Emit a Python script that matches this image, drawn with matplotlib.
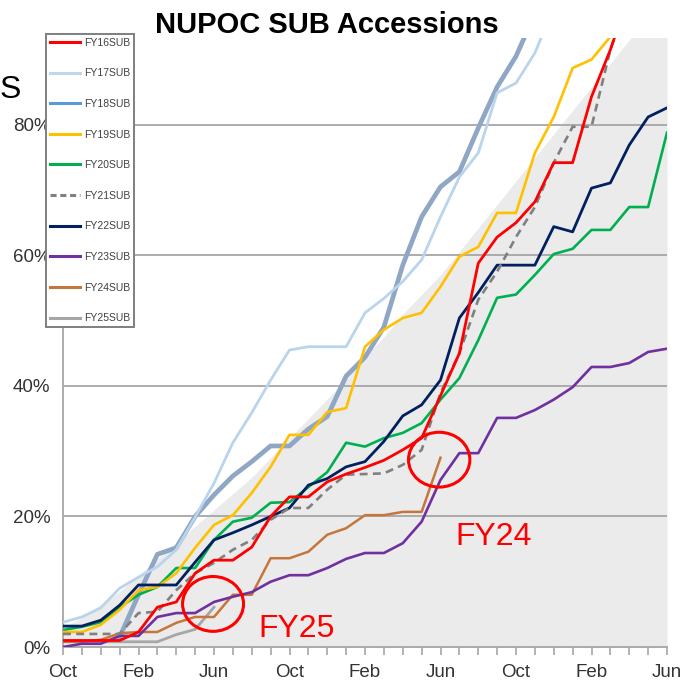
import numpy as np
import matplotlib
matplotlib.use('Agg')
import matplotlib.pyplot as plt
from matplotlib.lines import Line2D
from matplotlib.patches import Ellipse

plt.rcParams['font.family'] = ['Liberation Sans', 'DejaVu Sans']

nan = np.nan

# months since Oct, 0..32 (Oct -> Jun two years later)
month_labels = ['Oct', 'Feb', 'Jun', 'Oct', 'Feb', 'Jun', 'Oct', 'Feb', 'Jun']

goal = [3, 4.5, 6.5, 8.5, 11, 13.5, 16, 18.5, 21, 23.5, 26, 29, 32, 35, 38, 41, 44.5,
        47.5, 51, 54, 57, 60.6, 64.2, 67.8, 71.4, 75, 78.6, 82.2, 85.8, 89.4, 93, 96.5, 100]

fy16 = [1, 1, 1, 1, 2.3, 6.1, 6.9, 11.3, 13.3, 13.3, 15.3, 20, 23, 23, 25.3, 26.5, 27.5,
        28.6, 30.2, 32, 38.5, 45, 58.8, 62.8, 65, 68.2, 74.2, 74.2, 84.3, 91.5, 100]
fy17 = [3.8, 4.6, 6.0, 9.0, 10.7, 12.3, 14.9, 19.9, 25.1, 31.3, 35.9, 40.9, 45.5, 46, 46, 46,
        51.2, 53.4, 56, 59.3, 65.9, 72, 75.7, 84.9, 86.4, 91, 98]
fy18 = [nan, nan, nan, 1.5, 8, 14.2, 15.2, 20, 23.3, 26.2, 28.4, 30.8, 30.8, 33.4, 35.3, 41.5,
        44.4, 49, 58.5, 65.9, 70.5, 72.8, 79.5, 85.8, 90.5, 97]
fy19 = [2.3, 2.3, 3.4, 5.7, 8.7, 9.2, 11.3, 15.2, 18.7, 20.2, 23.6, 27.6, 32.5, 32.5, 36, 36.6,
        46, 48.6, 50.4, 51.2, 55.2, 59.8, 61.3, 66.5, 66.5, 75.7, 81.2, 88.7, 90, 93.5, 97]
fy20 = [2.6, 3.1, 3.8, 6.1, 8, 9.2, 12.1, 12.1, 16.4, 19.2, 19.8, 22.1, 22.2, 24.5, 26.8, 31.3,
        30.7, 32, 32.8, 34.3, 37.9, 41.2, 47, 53.5, 54, 57, 60.2, 61, 63.9, 63.9, 67.4, 67.4, 78.8]
fy21 = [2, 2, 2, 2, 5.2, 5.4, 8.7, 11.3, 12.9, 14.9, 16.4, 19.5, 21.3, 21.3, 24.1, 26.4, 26.5,
        26.6, 27.9, 30.2, 38.9, 45, 53.2, 57.5, 62.8, 67.4, 74.2, 79.7, 79.7, 91.5, 100]
fy22 = [3.2, 3.2, 4.1, 6.4, 9.5, 9.5, 9.5, 13, 16.4, 17.5, 18.7, 20, 21.3, 24.8, 25.8, 27.6,
        28.4, 31.5, 35.4, 37.1, 40.9, 50.4, 54.3, 58.5, 58.5, 58.5, 64.4, 63.6, 70.3, 71.1, 76.9,
        81.2, 82.6]
fy23 = [0, 0.5, 0.5, 1.7, 1.7, 4.6, 5.2, 5.2, 6.9, 7.7, 8.4, 10, 11, 11, 12.1, 13.5, 14.4,
        14.4, 15.9, 19.2, 25.6, 29.7, 29.7, 35.1, 35.1, 36.3, 37.9, 39.8, 42.9, 42.9, 43.5, 45.2,
        45.7]
fy24 = [0.8, 0.8, 1.1, 2.1, 2.3, 2.3, 3.7, 4.6, 4.6, 8, 8, 13.6, 13.6, 14.6, 17.2, 18.2, 20.2,
        20.2, 20.7, 20.7, 29]
fy25 = [0.8, 0.8, 0.8, 0.8, 0.8, 0.8, 1.9, 2.7, 6.1]

series_names = ['FY16SUB', 'FY17SUB', 'FY18SUB', 'FY19SUB', 'FY20SUB',
                'FY21SUB', 'FY22SUB', 'FY23SUB', 'FY24SUB', 'FY25SUB']


def main():
    fig = plt.figure(figsize=(6.81, 6.88), dpi=100)
    ax = fig.add_axes([63 / 681, 41 / 688, 604 / 681, 609 / 688])

    months = np.arange(len(goal))
    ax.fill_between(months, 0, goal, color='#EBEBEB', lw=0, zorder=0)
    for v in [20, 40, 60, 80]:
        ax.axhline(v, color='#A6A6A6', lw=1.3, zorder=1)

    styles = [
        (fy18, '#8FA6C4', 3.4, '-'),
        (fy17, '#B9D4EC', 2.0, '-'),
        (fy25, '#A6A6A6', 2.0, '-'),
        (fy24, '#C5763A', 1.8, '-'),
        (fy23, '#7030A0', 1.9, '-'),
        (fy20, '#00B050', 1.9, '-'),
        (fy19, '#FFC000', 1.9, '-'),
        (fy22, '#002060', 2.0, '-'),
        (fy21, '#808080', 1.9, (0, (3, 2))),
        (fy16, '#FF0000', 2.0, '-'),
    ]
    for vals, color, lw, ls in styles:
        ax.plot(np.arange(len(vals)), vals, color=color, lw=lw, ls=ls, zorder=3)

    # red callouts
    ax.add_patch(Ellipse((7.95, 6.6), 3.23, 8.4, fill=False, ec='#FF0000', lw=2.2, zorder=5))
    ax.add_patch(Ellipse((19.93, 28.7), 3.25, 8.4, fill=False, ec='#FF0000', lw=2.2, zorder=5))
    ax.text(10.33, 1.5, 'FY25', color='#FF0000', fontsize=23, va='baseline', zorder=6)
    ax.text(20.77, 15.6, 'FY24', color='#FF0000', fontsize=23, va='baseline', zorder=6)

    ax.set_xlim(0, 32)
    ax.set_ylim(0, 93.3)
    ax.set_xticks(np.arange(0, 33, 4))
    ax.set_xticklabels(month_labels)
    ax.set_xticks(np.arange(33), minor=True)
    ax.set_yticks([0, 20, 40, 60, 80])
    ax.set_yticklabels(['0%', '20%', '40%', '60%', '80%'])
    ax.tick_params(axis='x', which='both', length=6, color='#A6A6A6', width=1.2,
                   labelsize=13.5, labelcolor='#333333', pad=6)
    ax.tick_params(axis='y', length=0, labelsize=13.5, labelcolor='#333333', pad=9)
    for side in ['top', 'right']:
        ax.spines[side].set_visible(False)
    for side in ['left', 'bottom']:
        ax.spines[side].set_color('#A6A6A6')
        ax.spines[side].set_linewidth(1.3)

    legend_colors = ['#FF0000', '#BDD7EE', '#5B9BD5', '#FFC000', '#00B050',
                     '#808080', '#002060', '#7030A0', '#C5763A', '#A6A6A6']
    handles = []
    for name, color in zip(series_names, legend_colors):
        ls = (0, (2, 1.2)) if name == 'FY21SUB' else '-'
        handles.append(Line2D([], [], color=color, lw=2.2, ls=ls))
    leg = fig.legend(handles, series_names, loc='upper left',
                     bbox_to_anchor=(46 / 681, 1 - 34 / 688), fontsize=7.5,
                     handlelength=2.9, labelspacing=1.98, borderpad=0.35,
                     handletextpad=0.4, borderaxespad=0, fancybox=False,
                     framealpha=1, edgecolor='#7F7F7F')
    leg.get_frame().set_linewidth(1.4)
    for t in leg.get_texts():
        t.set_color('#404040')

    fig.text(327 / 681, 1 - 33 / 688, 'NUPOC SUB Accessions', ha='center', va='baseline',
             fontsize=21, weight='bold')
    fig.text(0.0, 1 - 98 / 688, 'S', ha='left', va='baseline', fontsize=23)

    fig.savefig('out.png', dpi=100)


if __name__ == '__main__':
    main()
